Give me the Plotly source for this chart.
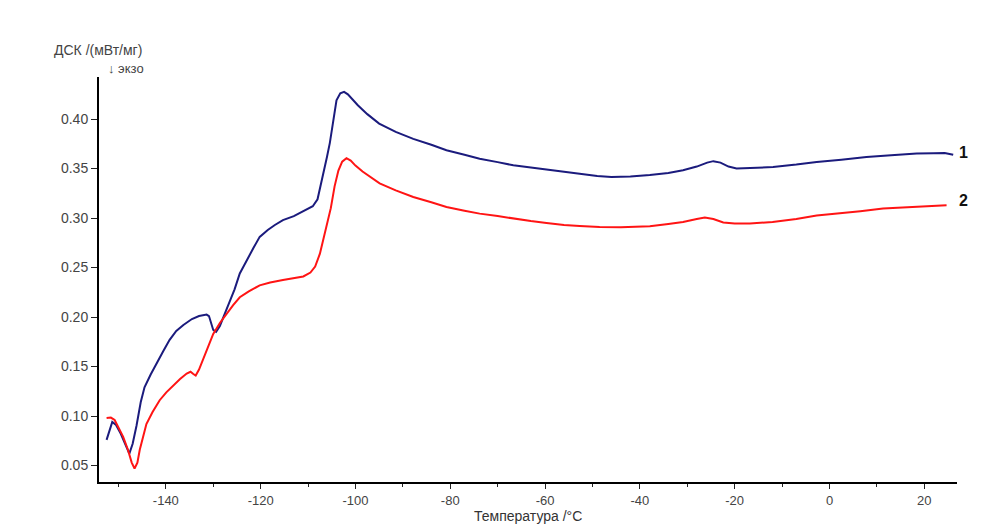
import plotly.graph_objects as go

# DSC curves (temperature, °C / signal, mW/mg)
temp_1 = [
    -152.5, -151.9, -151.3, -150.5, -149.5, -148.5, -147.7, -147.0, -146.2, -145.3,
    -144.5, -143.2, -142.0, -140.5, -139.2, -137.8, -136.3, -134.5, -133.0, -131.4,
    -130.9, -130.4, -130.0, -129.4, -128.6, -127.6, -126.5, -125.5, -124.4, -123.0,
    -121.5, -120.2, -118.5, -117.0, -115.3, -113.0, -110.5, -109.0, -108.0, -107.3,
    -106.8, -106.0, -105.4, -104.6, -104.0, -103.2, -102.4, -101.6, -100.5, -99.5,
    -97.5, -95.0, -91.5, -87.8, -84.0, -80.8, -77.0, -73.8, -70.0, -66.7,
    -63.0, -59.7, -56.0, -52.7, -49.0, -46.0, -42.0, -37.9, -34.0, -30.9,
    -28.0, -25.8, -24.5, -23.0, -21.3, -19.6, -16.0, -11.9, -7.0, -2.7,
    2.5, 7.8, 13.0, 18.4, 22.0, 24.3, 26.1,
]
dsc_1 = [
    0.076, 0.086, 0.094, 0.091, 0.082, 0.071, 0.062, 0.072, 0.090, 0.114,
    0.129, 0.142, 0.153, 0.166, 0.177, 0.186, 0.192, 0.198, 0.201, 0.2025,
    0.201, 0.193, 0.187, 0.185, 0.191, 0.203, 0.216, 0.228, 0.244, 0.257,
    0.270, 0.281, 0.288, 0.293, 0.298, 0.302, 0.308, 0.312, 0.319, 0.333,
    0.345, 0.362, 0.376, 0.403, 0.419, 0.426, 0.4275, 0.425, 0.419, 0.414,
    0.405, 0.3955, 0.387, 0.380, 0.374, 0.3685, 0.364, 0.360, 0.3565, 0.3533,
    0.351, 0.349, 0.347, 0.345, 0.3425, 0.3415, 0.342, 0.3435, 0.3455, 0.3483,
    0.352, 0.356, 0.3575, 0.356, 0.352, 0.350, 0.3505, 0.3516, 0.354, 0.3567,
    0.359, 0.3617, 0.3635, 0.3652, 0.3655, 0.3658, 0.364,
]

temp_2 = [
    -152.5, -151.6, -150.8, -150.0, -149.0, -148.0, -147.2, -146.6, -146.0, -145.5,
    -144.8, -144.1, -142.8, -141.3, -139.9, -138.5, -137.0, -135.6, -134.8, -134.2,
    -133.7, -133.0, -132.2, -131.2, -130.0, -128.6, -127.2, -125.8, -124.4, -122.5,
    -120.2, -118.0, -115.3, -113.0, -111.0, -109.5, -108.5, -107.5, -106.7, -105.8,
    -105.2, -104.4, -103.6, -102.8, -101.9, -101.0, -100.0, -98.5, -96.5, -94.9,
    -91.5, -87.8, -84.0, -80.8, -77.0, -73.8, -70.0, -66.7, -63.0, -59.7,
    -56.0, -52.7, -48.5, -44.0, -40.0, -37.9, -34.0, -30.9, -28.0, -26.3,
    -24.5, -22.4, -20.0, -16.8, -12.0, -7.0, -2.7, 2.0, 6.5, 11.3,
    16.0, 20.5, 24.7,
]
dsc_2 = [
    0.098, 0.0985, 0.096, 0.089, 0.079, 0.066, 0.053, 0.047, 0.053, 0.066,
    0.080, 0.092, 0.104, 0.116, 0.124, 0.131, 0.1375, 0.143, 0.1448, 0.1425,
    0.141, 0.147, 0.157, 0.169, 0.183, 0.194, 0.2035, 0.212, 0.220, 0.226,
    0.232, 0.235, 0.2375, 0.2395, 0.241, 0.245, 0.251, 0.264, 0.280, 0.298,
    0.310, 0.332, 0.348, 0.357, 0.3605, 0.358, 0.353, 0.347, 0.340, 0.335,
    0.328, 0.3213, 0.316, 0.3112, 0.3075, 0.3045, 0.302, 0.2995, 0.297, 0.295,
    0.293, 0.292, 0.291, 0.2908, 0.2912, 0.2917, 0.294, 0.296, 0.299, 0.3005,
    0.299, 0.2955, 0.2945, 0.2945, 0.296, 0.299, 0.3025, 0.3045, 0.307, 0.3096,
    0.311, 0.3125, 0.313,
]

curve_labels = ["1", "2"]

# x tick labels use a plain hyphen like the original instrument printout
x_tick_vals = [-140, -120, -100, -80, -60, -40, -20, 0, 20]
x_tick_text = ["-140", "-120", "-100", "-80", "-60", "-40", "-20", "0", "20"]

fig = go.Figure()
fig.add_trace(go.Scatter(x=temp_1, y=dsc_1, mode="lines", name=curve_labels[0],
                         line={"color": "#1b1b7d", "width": 2}))
fig.add_trace(go.Scatter(x=temp_2, y=dsc_2, mode="lines", name=curve_labels[1],
                         line={"color": "#ff1414", "width": 2}))

# curve numbers just right of the plot end
for label, yv, dy in zip(curve_labels, [dsc_1[-1], dsc_2[-1]], [2, 5]):
    fig.add_annotation(x=1.0, xref="paper", y=yv, yref="y", text=f"<b>{label}</b>",
                       xanchor="left", yanchor="middle", xshift=0, yshift=dy,
                       showarrow=False, font={"size": 16, "color": "#111"})

# y title in the top-left corner, two lines
fig.add_annotation(x=-0.055, xref="paper", y=1.066, yref="paper", text="ДСК /(мВт/мг)",
                   xanchor="left", yanchor="middle", showarrow=False,
                   font={"size": 14, "color": "#444"})
fig.add_annotation(x=0.008, xref="paper", y=1.021, yref="paper", text="↓ экзо",
                   xanchor="left", yanchor="middle", showarrow=False,
                   font={"size": 13, "color": "#444"})
# x title sits close under the tick labels
fig.add_annotation(x=0.5, xref="paper", y=-0.085, yref="paper", text="Температура /°C",
                   xanchor="center", yanchor="middle", showarrow=False,
                   font={"size": 14, "color": "#333"})

fig.update_xaxes(
    range=[-154.1, 26.9], tickvals=x_tick_vals, ticktext=x_tick_text,
    ticks="outside", ticklen=5, tickwidth=1, tickcolor="#222",
    minor={"dtick": 10, "tick0": 0, "ticks": "outside", "ticklen": 3, "tickcolor": "#222"},
    showline=True, linecolor="black", linewidth=2, showgrid=False, zeroline=False,
    tickfont={"size": 13, "color": "#444"},
)
fig.update_yaxes(
    range=[0.0334, 0.4425], dtick=0.05, tick0=0.05, tickformat=".2f",
    ticks="outside", ticklen=6, tickwidth=1, tickcolor="#222",
    showline=True, linecolor="black", linewidth=2, showgrid=False, zeroline=False,
    tickfont={"size": 14, "color": "#444"},
)
# margins account for the 8px body margin of the html page
fig.update_layout(
    width=1003,
    height=531,
    showlegend=False,
    margin={"l": 91, "r": 54, "t": 69, "b": 57},
    plot_bgcolor="white",
    paper_bgcolor="white",
    font={"family": "Liberation Sans, Arial, sans-serif", "size": 12},
)
fig.write_html("out.html")
